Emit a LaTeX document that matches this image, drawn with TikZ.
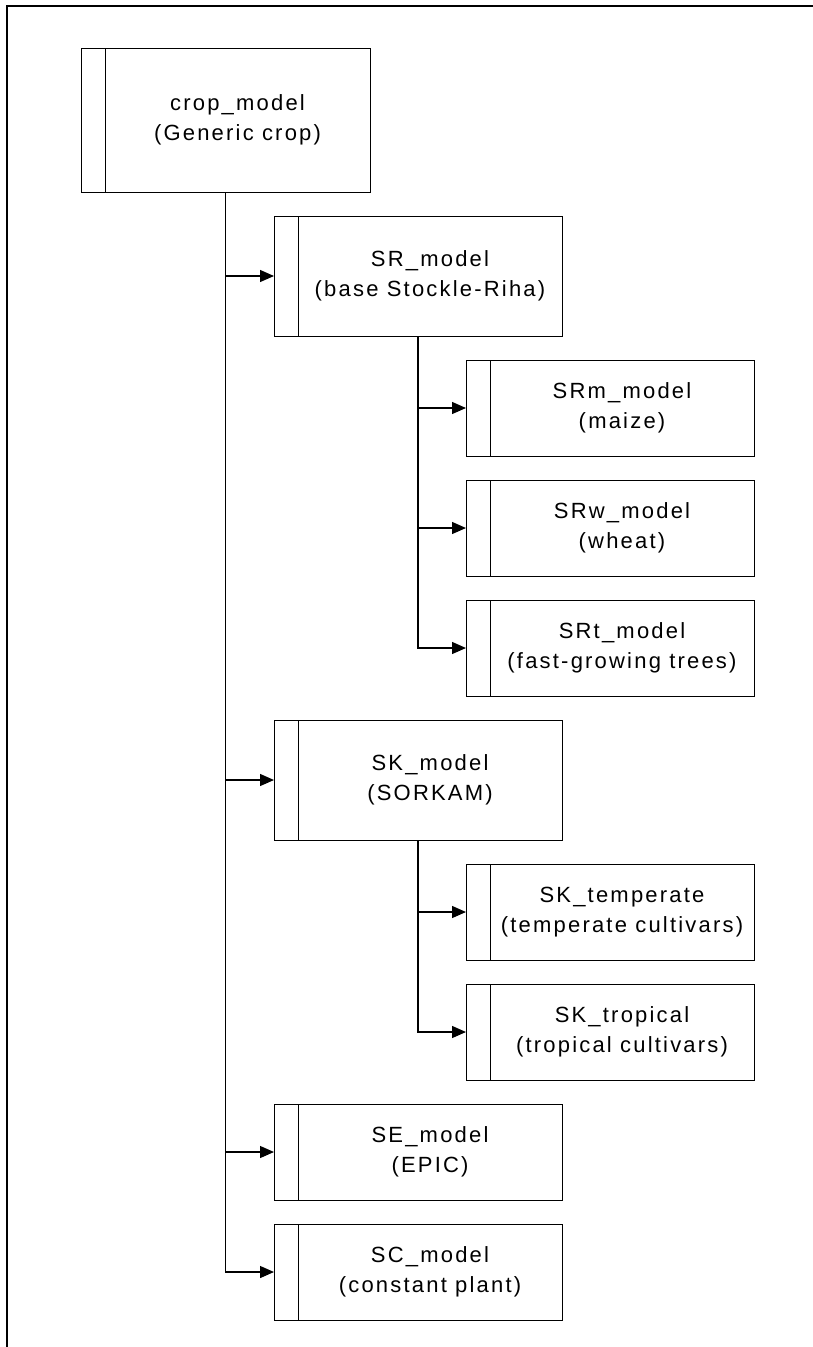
\documentclass[tikz,border=0pt]{standalone}
\usepackage{fontspec}
\usepackage{tikz}
\usetikzlibrary{arrows.meta, positioning}
\newfontfamily\boxfont{Liberation Sans}[LetterSpace=10]
\newcommand{\modlabel}[2]{\hspace*{24pt}#1\\\hspace*{24pt}#2}
\tikzset{
	line width = 1.3pt,
	>={Triangle[length=14pt,width=12pt]},
	font = \boxfont\fontsize{22}{30}\selectfont,
	modbox/.style={
		draw,
		rectangle,
		align=center,
		outer sep=0pt,
		inner sep=0pt,
		minimum width=288pt,
		minimum height=96pt,
		path picture={
			\draw ([xshift=24pt]path picture bounding box.north west)
				-- ([xshift=24pt]path picture bounding box.south west);
		}
	},
	tallbox/.style={
		modbox,
		minimum height=120pt
	},
	edge/.style={
		->,
		line width=1.3pt
	}
}

\begin{document}
\begin{tikzpicture}[x=1pt, y=-1pt]
		\useasboundingbox (0,0) rectangle (813,1347);
		\draw[line width=1.6pt] (7,1347) -- (7,6) -- (813,6);

		\node[modbox, minimum width=289pt, minimum height=144pt] at (225.5,120) (crop) {\modlabel{crop\_model}{(Generic crop)}};
		\node[tallbox] at (418,276) (sr) {\modlabel{SR\_model}{(base Stockle-Riha)}};
		\node[modbox] at (610,408) (srm) {\modlabel{SRm\_model}{(maize)}};
		\node[modbox, below=24pt of srm] (srw) {\modlabel{SRw\_model}{(wheat)}};
		\node[modbox, below=24pt of srw] (srt) {\modlabel{SRt\_model}{(fast-growing trees)}};
		\node[tallbox] at (418,780) (sk) {\modlabel{SK\_model}{(SORKAM)}};
		\node[modbox] at (610,912) (skte) {\modlabel{SK\_temperate}{(temperate cultivars)}};
		\node[modbox, below=24pt of skte] (sktr) {\modlabel{SK\_tropical}{(tropical cultivars)}};
		\node[modbox] at (418,1152) (se) {\modlabel{SE\_model}{(EPIC)}};
		\node[modbox, below=24pt of se] (sc) {\modlabel{SC\_model}{(constant plant)}};

		\draw[edge] (crop.south) |- (sr.west);
		\draw[edge] (crop.south) |- (sk.west);
		\draw[edge] (crop.south) |- (se.west);
		\draw[edge] (crop.south) |- (sc.west);
		\draw[edge] (sr.south) |- (srm.west);
		\draw[edge] (sr.south) |- (srw.west);
		\draw[edge] (sr.south) |- (srt.west);
		\draw[edge] (sk.south) |- (skte.west);
		\draw[edge] (sk.south) |- (sktr.west);
	\end{tikzpicture}
\end{document}
